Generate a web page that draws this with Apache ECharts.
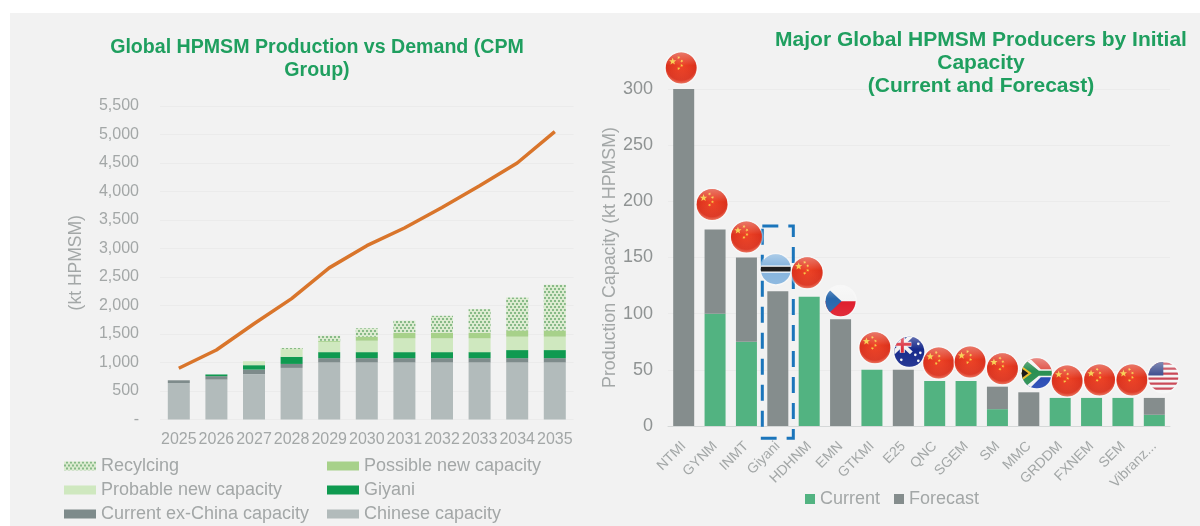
<!DOCTYPE html>
<html>
<head>
<meta charset="utf-8">
<script src="https://cdn.jsdelivr.net/npm/echarts@6/dist/echarts.min.js"></script>
<style>
html, body { margin: 0; padding: 0; background: #fff; }
#panel { position: absolute; left: 10px; top: 13px; width: 1190px; height: 513px; background: #f2f2f2; }
#main { position: absolute; left: 0; top: 0; width: 1200px; height: 526px; }
</style>
</head>
<body>
<div id="panel"></div>
<div id="main"></div>
<script>
var years = ["2025", "2026", "2027", "2028", "2029", "2030", "2031", "2032", "2033", "2034", "2035"];
var chinese = [640, 700, 795, 905, 1000, 1000, 1000, 1000, 1000, 1000, 1000];
var exChina = [48, 60, 80, 70, 76, 76, 76, 76, 76, 76, 76];
var giyani = [0, 30, 78, 125, 106, 106, 106, 106, 106, 142, 142];
var probable = [0, 0, 70, 135, 180, 200, 242, 242, 242, 235, 235];
var possible = [0, 0, 0, 0, 18, 70, 95, 95, 95, 110, 110];
var recycling = [0, 0, 0, 20, 90, 148, 216, 300, 416, 576, 800];
var demand = [900, 1220, 1680, 2120, 2660, 3050, 3360, 3720, 4100, 4500, 5050];

var producers = ["NTMI", "GYNM", "INMT", "Giyani", "HDHNM", "EMN", "GTKMI", "E25", "QNC", "SGEM", "SM", "MMC", "GRDDM", "FXNEM", "SEM", "Vibranz..."];
var current = [0, 100, 75, 0, 115, 0, 50, 0, 40, 40, 15, 0, 25, 25, 25, 10];
var forecast = [300, 75, 75, 120, 0, 95, 0, 50, 0, 0, 20, 30, 0, 0, 0, 15];
var flags = ["cn", "cn", "cn", "bw", "cn", "cz", "cn", "au", "cn", "cn", "cn", "za", "cn", "cn", "cn", "us"];

// px offset of each flag from the top of its bar
var flagDx = [-2.5, -3, 0, -2, -2, 0, 3, 6, 4, 4, 5, 8, 7, 8, 9, 9];
var flagDy = [-21, -25, -20.5, -22, -24, -18, -22, -18, -18, -19, -18, -19, -17, -18, -18, -21];

var GREY = "#a3a7a7";
var GREEN = "#1f9f5f";

function star(x, y, r, rot) {
	var pts = [];
	for (var i = 0; i < 10; i++) {
		var a = rot + i * Math.PI / 5 - Math.PI / 2;
		var rr = i % 2 ? r * 0.42 : r;
		pts.push([x + rr * Math.cos(a), y + rr * Math.sin(a)]);
	}
	return { type: "polygon", shape: { points: pts }, style: { fill: "#f7c93c" } };
}

function box(x, y, w, h, fill) {
	return { type: "rect", shape: { x: x, y: y, width: w, height: h }, style: { fill: fill } };
}

function poly(points, fill) {
	return { type: "polygon", shape: { points: points }, style: { fill: fill } };
}

function bar(x1, y1, x2, y2, w, color) {
	return { type: "line", shape: { x1: x1, y1: y1, x2: x2, y2: y2 }, style: { stroke: color, lineWidth: w } };
}

function flagParts(code) {
	var i, out;
	if (code == "cn") {
		return [
			{
				type: "circle",
				shape: { cx: 0, cy: 0, r: 16 },
				style: {
					fill: {
						type: "radial", x: 0.5, y: 0.42, r: 0.62,
						colorStops: [
							{ offset: 0, color: "#ee3a1a" },
							{ offset: 0.75, color: "#d9250f" },
							{ offset: 1, color: "#f0826a" }
						]
					}
				}
			},
			star(-8.5, -6.5, 3.8, 0), star(-2.5, -10.5, 1.7, 0.4), star(0.5, -7, 1.7, 0.8),
			star(0.5, -2.5, 1.7, 0.2), star(-2.5, 0.5, 1.7, 0.5)
		];
	}
	if (code == "bw") {
		return [
			box(-16, -16, 32, 32, "#7fb0dc"),
			box(-16, -3.6, 32, 7.2, "#ffffff"),
			box(-16, -2.4, 32, 4.8, "#111111")
		];
	}
	if (code == "cz") {
		return [
			box(-16, -16, 32, 16, "#f4f4f4"),
			box(-16, 0, 32, 16, "#dd1020"),
			poly([[-16, -16], [1, 0], [-16, 16]], "#1d5fa8")
		];
	}
	if (code == "au") {
		out = [
			box(-16, -16, 32, 32, "#0b1f86"),
			bar(-16, -16, 2, 1, 4, "#f0f0f0"), bar(2, -16, -16, 1, 4, "#f0f0f0"),
			bar(-7, -16, -7, 1, 5, "#f0f0f0"), bar(-16, -7.5, 2, -7.5, 5, "#f0f0f0"),
			bar(-7, -16, -7, 1, 3, "#d92030"), bar(-16, -7.5, 2, -7.5, 3, "#d92030")
		];
		var st = [[-8, 8], [9, -8], [11, 1], [6, 3], [9, 9]];
		for (i = 0; i < st.length; i++) {
			out.push({ type: "circle", shape: { cx: st[i][0], cy: st[i][1], r: 1.3 }, style: { fill: "#f4f4f4" } });
		}
		return out;
	}
	if (code == "za") {
		return [
			box(-16, -16, 32, 16, "#de4a3f"),
			box(-16, 0, 32, 16, "#1a3fb0"),
			poly([[-16, -16], [-8, -16], [4, -4], [16, -4], [16, 4], [4, 4], [-8, 16], [-16, 16]], "#f2f2f2"),
			poly([[-16, -13], [-11, -13], [2, -2.5], [16, -2.5], [16, 2.5], [2, 2.5], [-11, 13], [-16, 13]], "#1f8a4a"),
			poly([[-16, -8], [-5, 0], [-16, 8]], "#e8b820"),
			poly([[-16, -5.5], [-8.5, 0], [-16, 5.5]], "#0d0d0d")
		];
	}
	// us
	out = [box(-16, -16, 32, 32, "#f4f4f4")];
	for (i = 0; i < 6; i++) {
		out.push(box(-16, -14.5 + i * 5, 32, 2.4, "#c63a4a"));
	}
	out.push(box(-16, -16, 16, 14.5, "#3a4a8c"));
	return out;
}

function renderFlag(params, api) {
	var i = api.value(0);
	var pos = api.coord([i, api.value(1)]);
	var r = flags[i] == "cn" ? 15.5 : 15;
	var halo = {
		type: "circle",
		shape: { cx: pos[0] + flagDx[i], cy: pos[1] + flagDy[i], r: r + 1.5 },
		style: { fill: "rgba(255,255,255,0.4)" }
	};
	var gloss = {
		type: "circle",
		shape: { cx: 0, cy: 0, r: 16 },
		style: {
			fill: {
				type: "linear", x: 0, y: 0, x2: 0, y2: 1,
				colorStops: [
					{ offset: 0, color: "rgba(255,255,255,0.38)" },
					{ offset: 0.42, color: "rgba(255,255,255,0.05)" },
					{ offset: 1, color: "rgba(255,255,255,0.12)" }
				]
			}
		}
	};
	return {
		type: "group",
		children: [halo, {
			type: "group",
			x: pos[0] + flagDx[i],
			y: pos[1] + flagDy[i],
			clipPath: { type: "circle", shape: { cx: 0, cy: 0, r: r } },
			children: flagParts(flags[i]).concat([gloss])
		}]
	};
}

function renderHighlight(params, api) {
	var a = api.coord([api.value(0), api.value(1)]);
	var b = api.coord([api.value(0), api.value(2)]);
	return {
		type: "rect",
		shape: { x: a[0] - 15.5, y: a[1], width: 31, height: b[1] - a[1] },
		style: { fill: "none", stroke: "#1b75bb", lineWidth: 3, lineDash: [16, 10] }
	};
}

function stacked(name, data, color, extra) {
	var item = { color: color };
	if (extra) item.decal = extra;
	return {
		name: name,
		type: "bar",
		stack: "supply",
		barWidth: 22,
		xAxisIndex: 0,
		yAxisIndex: 0,
		data: data,
		itemStyle: item
	};
}

var totals = producers.map(function (p, i) {
	return [i, current[i] + forecast[i]];
});

var chart = echarts.init(document.getElementById("main"));
chart.setOption({
	animation: false,
	title: [
		{
			text: "Global HPMSM Production vs Demand (CPM\nGroup)",
			left: 312,
			top: 31,
			textAlign: "center",
			textStyle: { color: GREEN, fontFamily: "Liberation Sans", fontWeight: "bold", fontSize: 19.6, lineHeight: 23 }
		},
		{
			text: "Major Global HPMSM Producers by Initial\nCapacity\n(Current and Forecast)",
			left: 976,
			top: 24,
			textAlign: "center",
			textStyle: { color: GREEN, fontFamily: "Liberation Sans", fontWeight: "bold", fontSize: 21, lineHeight: 23 }
		}
	],
	legend: [
		{
			left: 64,
			top: 457,
			orient: "vertical",
			icon: "rect",
			itemWidth: 32,
			itemHeight: 9,
			itemGap: 6,
			padding: 0,
			data: ["Recylcing", "Probable new capacity", "Current ex-China capacity"],
			textStyle: { color: GREY, fontFamily: "Liberation Sans", fontSize: 18 }
		},
		{
			left: 327,
			top: 457,
			orient: "vertical",
			icon: "rect",
			itemWidth: 32,
			itemHeight: 9,
			itemGap: 6,
			padding: 0,
			data: ["Possible new capacity", "Giyani", "Chinese capacity"],
			textStyle: { color: GREY, fontFamily: "Liberation Sans", fontSize: 18 }
		},
		{
			left: 805,
			top: 490,
			icon: "rect",
			itemWidth: 10,
			itemHeight: 10,
			itemGap: 14,
			padding: 0,
			data: ["Current", "Forecast"],
			textStyle: { color: GREY, fontFamily: "Liberation Sans", fontSize: 18 }
		}
	],
	grid: [
		{ left: 160, top: 106, width: 413.6, height: 313.5 },
		{ left: 668, top: 89, width: 502, height: 337 }
	],
	xAxis: [
		{
			gridIndex: 0,
			type: "category",
			data: years,
			axisLine: { show: false },
			axisTick: { show: false },
			axisLabel: { color: GREY, fontFamily: "Liberation Sans", fontSize: 16, interval: 0, margin: 12 }
		},
		{
			gridIndex: 1,
			type: "category",
			data: producers,
			axisLine: { lineStyle: { color: "#d5d8d8" } },
			axisTick: { show: false },
			axisLabel: { color: GREY, fontFamily: "Liberation Sans", fontSize: 14, interval: 0, rotate: 45, margin: 18 }
		}
	],
	yAxis: [
		{
			gridIndex: 0,
			type: "value",
			min: 0,
			max: 5500,
			interval: 500,
			name: "(kt HPMSM)",
			nameLocation: "middle",
			nameGap: 75,
			nameTextStyle: { color: GREY, fontFamily: "Liberation Sans", fontSize: 17.5 },
			axisLine: { show: false },
			axisTick: { show: false },
			splitLine: { lineStyle: { color: "#ebebeb" } },
			axisLabel: {
				color: GREY,
				fontFamily: "Liberation Sans",
				fontSize: 16,
				margin: 21,
				formatter: function (v) {
					return v == 0 ? "-" : v.toLocaleString("en-US");
				}
			}
		},
		{
			gridIndex: 1,
			type: "value",
			min: 0,
			max: 300,
			interval: 50,
			name: "Production Capacity (kt HPMSM)",
			nameLocation: "middle",
			nameGap: 48,
			nameTextStyle: { color: GREY, fontFamily: "Liberation Sans", fontSize: 17.8 },
			axisLine: { show: false },
			axisTick: { show: false },
			splitLine: { lineStyle: { color: "#ebebeb" } },
			axisLabel: { color: "#8f9393", fontFamily: "Liberation Sans", fontSize: 18, margin: 15 }
		}
	],
	series: [
		stacked("Chinese capacity", chinese, "#b2bbbb"),
		stacked("Current ex-China capacity", exChina, "#7e8b8b"),
		stacked("Giyani", giyani, "#0f9a50"),
		stacked("Probable new capacity", probable, "#cfe8bf"),
		stacked("Possible new capacity", possible, "#a7d18a"),
		stacked("Recylcing", recycling, "#dcebd0", {
			symbol: "rect",
			color: "#4f9a58",
			symbolSize: 0.8,
			dashArrayX: [[2, 2], [0, 2, 2, 0]],
			dashArrayY: [2, 1]
		}),
		{
			name: "Demand",
			type: "line",
			xAxisIndex: 0,
			yAxisIndex: 0,
			data: demand,
			symbol: "none",
			lineStyle: { color: "#d9752b", width: 3.5 }
		},
		{
			name: "Current",
			type: "bar",
			stack: "capacity",
			barWidth: 21,
			xAxisIndex: 1,
			yAxisIndex: 1,
			data: current,
			itemStyle: { color: "#52b381" }
		},
		{
			name: "Forecast",
			type: "bar",
			stack: "capacity",
			barWidth: 21,
			xAxisIndex: 1,
			yAxisIndex: 1,
			data: forecast,
			itemStyle: { color: "#858d8d" }
		},
		{
			name: "Highlight",
			type: "custom",
			xAxisIndex: 1,
			yAxisIndex: 1,
			z: 5,
			data: [[3, 178, -11]],
			renderItem: renderHighlight
		},
		{
			name: "Flags",
			type: "custom",
			xAxisIndex: 1,
			yAxisIndex: 1,
			z: 6,
			data: totals,
			renderItem: renderFlag
		}
	]
});
</script>
</body>
</html>
